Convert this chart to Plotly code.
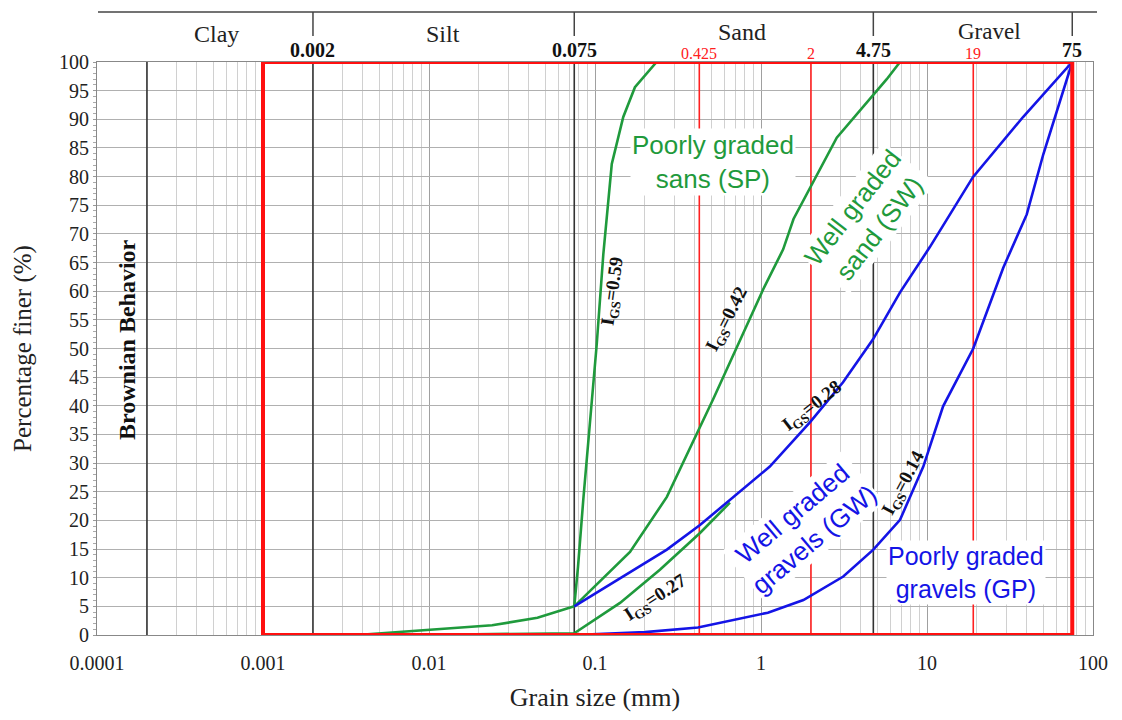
import math
import plotly.graph_objects as go

# ---------------- data ----------------
fines_size = [0.0037, 0.0097, 0.024, 0.045, 0.075]
fines_pass = [0.0, 0.9, 1.7, 3.0, 5.0]

sp_size = [0.075, 0.079, 0.085, 0.0955, 0.1024, 0.1122, 0.1262, 0.148, 0.174, 0.235, 0.30]
sp_pass = [5.0, 11.9, 23.6, 40.2, 50.7, 66.4, 82.2, 90.4, 95.6, 100.0, 100.0]

sw_size = [0.075, 0.1625, 0.271, 0.417, 0.514, 1.03, 1.36, 1.57, 2.86, 5.72, 6.88]
sw_pass = [5.0, 14.5, 24.1, 35.5, 41.1, 60.3, 67.3, 72.6, 86.8, 97.0, 100.0]

gs27_size = [0.015, 0.075, 0.1415, 0.246, 0.429, 0.650]
gs27_pass = [0.1, 0.3, 5.6, 11.4, 17.8, 23.1]

gw_size = [0.075, 0.271, 0.429, 0.650, 1.13, 1.97, 3.12, 4.73, 6.88, 10.4, 18.9, 37.9, 75.0]
gw_pass = [5.0, 14.9, 19.2, 23.6, 29.4, 37.1, 44.1, 51.6, 59.8, 67.7, 79.9, 90.4, 100.0]

gp_size = [0.075, 0.2, 0.417, 1.10, 1.8, 3.13, 4.75, 6.88, 9.50, 12.5, 19.0, 28.8, 39.9, 50.2, 75.0]
gp_pass = [0.0, 0.5, 1.3, 3.9, 6.1, 10.2, 14.9, 20.1, 29.4, 39.9, 50.0, 64.1, 73.4, 83.9, 100.0]

boundary_sizes = [0.002, 0.075, 4.75, 75.0]
boundary_labels = ["0.002", "0.075", "4.75", "75"]
sieve_sizes = [0.425, 2.0, 19.0]
sieve_labels = ["0.425", "2", "19"]
brownian_size = 0.0002
box_range = [0.001, 75.0]

class_names = ["Clay", "Silt", "Sand", "Gravel"]
x_tickvals = [0.0001, 0.001, 0.01, 0.1, 1, 10, 100]
x_ticktext = ["0.0001", "0.001", "0.01", "0.1", "1", "10", "100"]
y_tickvals = list(range(0, 101, 5))

# ---------------- layout helpers (pixel geometry) ----------------
W, H = 1122, 720
L, R, T, B = 97, 29, 62, 85
PW, PH = W - L - R, H - T - B


def px(xp):
    return (xp - L) / PW


def py(yp):
    return (H - B - yp) / PH


GREEN = "#1f9a3c"
BLUE = "#1414e6"
SERIF = "Liberation Serif"
SANS = "Liberation Sans"

fig = go.Figure()

# reference vertical lines
for v in [brownian_size] + boundary_sizes[:3]:
    fig.add_trace(go.Scatter(x=[v, v], y=[0, 100], mode="lines",
                             line=dict(color="#333333", width=1.6), hoverinfo="skip"))
for v in sieve_sizes:
    fig.add_trace(go.Scatter(x=[v, v], y=[0, 100], mode="lines",
                             line=dict(color="#ff2020", width=1.6), hoverinfo="skip"))

# gradation curves
curves = [
    (fines_size, fines_pass, GREEN),
    (gs27_size, gs27_pass, GREEN),
    (sp_size, sp_pass, GREEN),
    (sw_size, sw_pass, GREEN),
    (gp_size, gp_pass, BLUE),
    (gw_size, gw_pass, BLUE),
]
for xs, ys, c in curves:
    fig.add_trace(go.Scatter(x=xs, y=ys, mode="lines", line=dict(color=c, width=2.6)))

shapes = []
# red box
shapes.append(dict(type="rect", xref="x", yref="y", x0=box_range[0], x1=box_range[1],
                   y0=0, y1=100, line=dict(color="#ff1010", width=4), layer="above"))
# header line and ticks
hy = py(12)
shapes.append(dict(type="line", xref="paper", yref="paper", x0=px(98), x1=px(1097),
                   y0=hy, y1=hy, line=dict(color="#444444", width=1.5)))
for v in boundary_sizes:
    shapes.append(dict(type="line", xref="x", yref="paper", x0=v, x1=v, y0=hy, y1=py(36),
                       line=dict(color="#444444", width=1.5)))

ann = []


def add_text(text, x, y, font, xref="paper", angle=0, bg=None):
    d = dict(text=text, xref=xref, yref="paper", x=x, y=y, showarrow=False,
             xanchor="center", yanchor="middle", textangle=angle, font=font)
    if bg:
        d["bgcolor"] = bg
        d["borderpad"] = 1
    ann.append(d)


for name, xp, yp, sz in zip(class_names, [216, 443, 742, 989], [34, 34, 32, 31], [24, 24, 24, 23]):
    add_text(name, px(xp), py(yp), dict(family=SERIF, size=sz, color="#222222"))
for v, lab in zip(boundary_sizes, boundary_labels):
    add_text("<b>%s</b>" % lab, math.log10(v), py(50),
             dict(family=SERIF, size=20, color="#111111"), xref="x")
for v, lab in zip(sieve_sizes, sieve_labels):
    add_text(lab, math.log10(v), py(54), dict(family=SERIF, size=16, color="#ff2020"), xref="x")

# curve labels
lab_font_g = dict(family=SANS, size=26, color=GREEN)
lab_font_b = dict(family=SANS, size=26, color=BLUE)
add_text("Poorly graded<br>sans (SP)", px(713), py(162), lab_font_g, bg="white")
add_text("Well graded<br>sand (SW)", px(866), py(218), lab_font_g, angle=-52, bg="white")
add_text("Well graded<br>gravels (GW)", px(803), py(527), lab_font_b, angle=-40, bg="white")
add_text("Poorly graded<br>gravels (GP)", px(966), py(572),
         dict(family=SANS, size=25, color=BLUE), bg="white")

igs_font = dict(family=SERIF, size=19, color="#111111")
for val, xp, yp, ang in [("0.59", 613, 292, -82), ("0.42", 727, 320, -63),
                         ("0.28", 812, 407, -38), ("0.14", 904, 483, -62),
                         ("0.27", 656, 598, -33)]:
    add_text("<b>I<sub>GS</sub>=%s</b>" % val, px(xp), py(yp), igs_font, angle=ang)

add_text("<b>Brownian Behavior</b>", px(127), py(340),
         dict(family=SERIF, size=24, color="#111111"), angle=-90)

fig.update_layout(
    width=W, height=H, margin=dict(l=L, r=R, t=T, b=B),
    paper_bgcolor="white", plot_bgcolor="white", showlegend=False,
    shapes=shapes, annotations=ann,
    xaxis=dict(type="log", range=[-4, 2], tickvals=x_tickvals, ticktext=x_ticktext,
               showgrid=True, gridcolor="#a0a0a0", gridwidth=1,
               minor=dict(showgrid=True, gridcolor="#d0d0d0", gridwidth=1,
                          tickvals=[m * 10 ** e for e in range(-4, 2) for m in range(2, 10)]),
               showline=True, linecolor="#888888", linewidth=1.2, mirror=True,
               zeroline=False, ticks="", ticklabelstandoff=10,
               tickfont=dict(family=SERIF, size=20, color="#222222"),
               title=dict(text="Grain size (mm)", standoff=14,
                          font=dict(family=SERIF, size=26, color="#222222"))),
    yaxis=dict(range=[0, 100], tickvals=y_tickvals,
               showgrid=True, gridcolor="#b0b0b0", gridwidth=1,
               showline=True, linecolor="#888888", linewidth=1.2, mirror=True,
               zeroline=False, ticks="outside", ticklen=3, tickcolor="#999999",
               minor=dict(dtick=1, ticks="outside", ticklen=3, tickcolor="#aaaaaa", showgrid=False),
               tickfont=dict(family=SERIF, size=20, color="#222222"),
               title=dict(text="Percentage finer (%)", standoff=20,
                          font=dict(family=SERIF, size=25, color="#222222"))),
)

fig.write_html("out.html")
